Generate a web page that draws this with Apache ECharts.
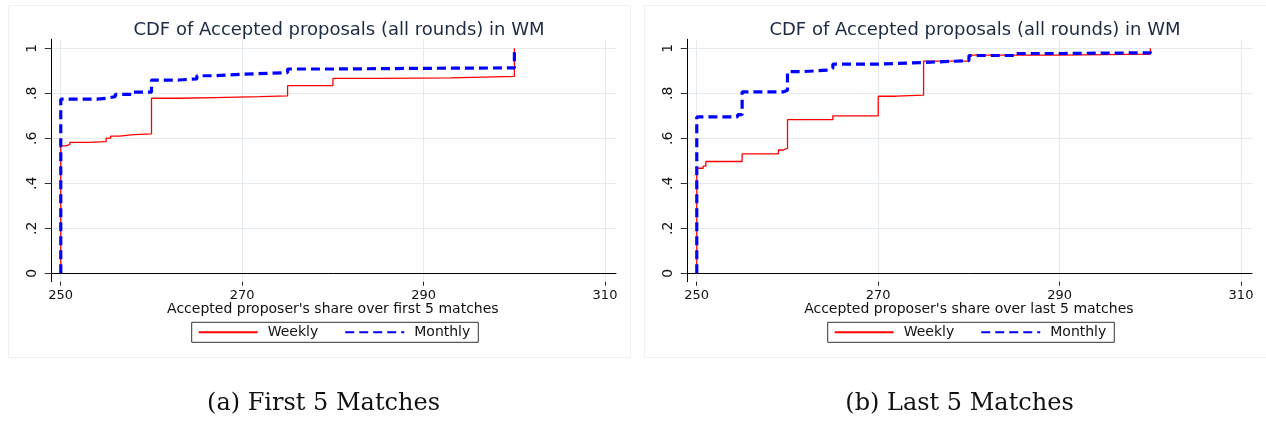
<!DOCTYPE html>
<html>
<head>
<meta charset="utf-8">
<script src="https://cdn.jsdelivr.net/npm/echarts@6/dist/echarts.min.js"></script>
<style>
  html, body { margin: 0; padding: 0; background: #fff; }
  #chart { width: 1266px; height: 422px; }
</style>
</head>
<body>
<div id="chart"></div>
<script>
// tick labels
const xTicks = [250, 270, 290, 310]
const yTickLabels = ['0', '.2', '.4', '.6', '.8', '1']

// first 5 matches: [share, cdf]
const firstWeekly = [
  [250, 0], [250, 0.566], [250.5, 0.572], [251, 0.582], [253, 0.585], [255, 0.601],
  [255.5, 0.610], [256.5, 0.616], [258, 0.620], [260, 0.778], [263, 0.781],
  [267, 0.785], [272, 0.789], [275, 0.834], [280, 0.866], [285, 0.869],
  [293, 0.875], [300, 1.0]
]
const firstMonthly = [
  [250, 0], [250, 0.774], [254, 0.778], [255, 0.785], [256, 0.795], [258, 0.805],
  [260, 0.859], [263, 0.864], [265, 0.878], [267, 0.885], [270, 0.892],
  [275, 0.908], [280, 0.911], [290, 0.913], [300, 1.0]
]

// last 5 matches
const lastWeekly = [
  [250, 0], [250, 0.467], [250.7, 0.476], [251, 0.497], [255, 0.531], [259, 0.548],
  [259.5, 0.555], [260, 0.683], [265, 0.700], [270, 0.787], [272, 0.792],
  [275, 0.943], [280, 0.970], [290, 0.974], [300, 1.0]
]
const lastMonthly = [
  [250, 0], [250, 0.695], [254.5, 0.705], [255, 0.806], [259.5, 0.814], [260, 0.896],
  [261.5, 0.903], [264.5, 0.911], [265, 0.930], [270, 0.937], [275, 0.945],
  [280, 0.968], [285, 0.977], [290, 0.980], [300, 1.0]
]

const panels = [
  { dx: 0, xName: "Accepted proposer's share over first 5 matches", caption: '(a) First 5 Matches', weekly: firstWeekly, monthly: firstMonthly },
  { dx: 636, xName: "Accepted proposer's share over last 5 matches", caption: '(b) Last 5 Matches', weekly: lastWeekly, monthly: lastMonthly }
]

const SANS = 'DejaVu Sans'
const GRID_COLOR = '#e3ebee'

const chart = echarts.init(document.getElementById('chart'))

const option = {
  animation: false,
  backgroundColor: '#fff',
  title: [],
  legend: [],
  grid: [],
  xAxis: [],
  yAxis: [],
  series: [],
  graphic: []
}

panels.forEach((p, i) => {
  const gTicks = i * 2
  const gData = i * 2 + 1

  // outer frame of the panel
  option.graphic.push({
    type: 'rect',
    shape: { x: p.dx + 8.5, y: 5.5, width: 622, height: 352 },
    style: { fill: 'none', stroke: '#edf2f4', lineWidth: 1 },
    silent: true
  })

  option.title.push({
    text: 'CDF of Accepted proposals (all rounds) in WM',
    left: p.dx + 334,
    top: 16,
    textAlign: 'center',
    textStyle: { fontFamily: SANS, fontSize: 18, fontWeight: 'normal', color: '#1c2a44' }
  })
  option.title.push({
    text: p.caption,
    left: p.dx + 318.5,
    top: 387,
    textAlign: 'center',
    textStyle: { fontFamily: 'DejaVu Serif', fontSize: 24, fontWeight: 'normal', color: '#111' }
  })

  // grid carrying x ticks / vertical grid lines over the full frame height
  option.grid.push({ left: p.dx + 60.7, top: 39.3, width: 544.3, height: 242.4 })
  // grid carrying the data and the y ticks / horizontal grid lines
  option.grid.push({ left: p.dx + 51.7, top: 48.3, width: 564.3, height: 225 })

  option.xAxis.push({
    type: 'value',
    gridIndex: gTicks,
    min: xTicks[0],
    max: xTicks[xTicks.length - 1],
    interval: xTicks[1] - xTicks[0],
    axisLine: { show: false },
    axisTick: { show: true, length: 4, lineStyle: { color: '#222' } },
    axisLabel: { margin: 7, fontFamily: SANS, fontSize: 13, color: '#111' },
    splitLine: { show: true, lineStyle: { color: GRID_COLOR, width: 1 } },
    name: p.xName,
    nameLocation: 'middle',
    nameGap: 21,
    nameMoveOverlap: false,
    nameTextStyle: { fontFamily: SANS, fontSize: 14, color: '#111' }
  })
  option.yAxis.push({
    type: 'value',
    gridIndex: gTicks,
    min: 0,
    max: 1,
    offset: 9,
    axisLine: { show: true, lineStyle: { color: '#000', width: 1 } },
    axisTick: { show: false },
    axisLabel: { show: false },
    splitLine: { show: false }
  })

  option.xAxis.push({
    type: 'value',
    gridIndex: gData,
    min: 249,
    max: 311.2,
    offset: 8.4,
    axisLine: { show: true, lineStyle: { color: '#000', width: 1 } },
    axisTick: { show: false },
    axisLabel: { show: false },
    splitLine: { show: false }
  })
  option.yAxis.push({
    type: 'value',
    gridIndex: gData,
    min: 0,
    max: 1,
    interval: 0.2,
    axisLine: { show: false },
    axisTick: { show: true, length: 7, lineStyle: { color: '#333' } },
    axisLabel: {
      rotate: 90,
      margin: 12,
      fontFamily: SANS,
      fontSize: 14,
      color: '#111',
      formatter: v => yTickLabels[Math.round(v / 0.2)]
    },
    splitLine: { show: true, lineStyle: { color: GRID_COLOR, width: 1 } }
  })

  option.series.push({
    name: 'Weekly',
    type: 'line',
    step: 'end',
    symbol: 'none',
    xAxisIndex: gData,
    yAxisIndex: gData,
    lineStyle: { color: '#ff0000', width: 1.3 },
    itemStyle: { color: '#ff0000' },
    data: p.weekly
  })
  option.series.push({
    name: 'Monthly',
    type: 'line',
    step: 'end',
    symbol: 'none',
    xAxisIndex: gData,
    yAxisIndex: gData,
    lineStyle: { color: '#0000ff', width: 3.2, type: [9, 5] },
    itemStyle: { color: '#0000ff' },
    data: p.monthly
  })

  option.legend.push({
    left: p.dx + 191.7,
    top: 322.3,
    orient: 'horizontal',
    data: ['Weekly', 'Monthly'],
    itemWidth: 59,
    itemHeight: 14,
    itemGap: 26,
    padding: [3, 8, 3, 6],
    borderColor: '#333',
    borderWidth: 1,
    selectedMode: false,
    itemStyle: { opacity: 0 },
    textStyle: { fontFamily: SANS, fontSize: 14, color: '#111', padding: [0, 0, 0, 5] }
  })
})

chart.setOption(option)
</script>
</body>
</html>
